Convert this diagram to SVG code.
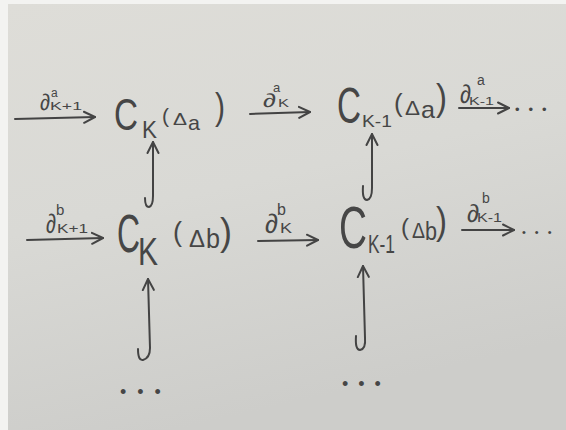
<svg xmlns="http://www.w3.org/2000/svg" width="566" height="430" viewBox="0 0 566 430">
<defs>
<linearGradient id="bg" x1="0" y1="0" x2="0.3" y2="1">
<stop offset="0" stop-color="#deddd8"/>
<stop offset="0.5" stop-color="#d9d9d5"/>
<stop offset="1" stop-color="#cdcdca"/>
</linearGradient>
<marker id="ah" markerUnits="userSpaceOnUse" markerWidth="14" markerHeight="14" viewBox="0 0 14 14" refX="12" refY="7" orient="auto">
<path d="M1,1.5 L12,7 L1,12.5" fill="none" stroke="#444" stroke-width="2" stroke-linecap="round" stroke-linejoin="round"/>
</marker>
</defs>
<style>
.ink{fill:#464646;font-family:"Liberation Sans","DejaVu Sans",sans-serif;}
.c{stroke:#434343;stroke-width:2;fill:none;stroke-linecap:round;stroke-linejoin:round;}
.ar{marker-end:url(#ah);}
</style>
<rect x="0" y="0" width="566" height="430" fill="#f3f3f1"/>
<rect x="8" y="4" width="558" height="426" fill="url(#bg)"/>

<g id="connectors">
<path class="c ar" d="M15,119 L95,117"/>
<path class="c ar" d="M250,114 L310,112"/>
<path class="c ar" d="M459,108 L509,108"/>
<path class="c ar" d="M27,240 L103,238"/>
<path class="c ar" d="M258,241 L318,240"/>
<path class="c ar" d="M462,230 L514,230"/>
<path class="c ar" d="M145,198 Q145,207 149,207 Q153,206 153,196 L153,142"/>
<path class="c ar" d="M363,186 Q362,200 367,200 Q372,199 372,188 L372,134"/>
<path class="c ar" d="M138,349 Q138,361 143,360 Q150,358 150,348 L148,279"/>
<path class="c ar" d="M356,336 Q355,350 360,350 Q366,349 365,338 L363,266"/>
</g>

<g id="labels">
<g id="d-a-k1"><text class="ink"><tspan x="40" y="110" font-size="23" textLength="10" lengthAdjust="spacingAndGlyphs">∂</tspan><tspan x="51" y="97" font-size="12">a</tspan><tspan x="50" y="110" font-size="10" textLength="32" lengthAdjust="spacingAndGlyphs">K+1</tspan></text></g>
<g id="d-a-k"><text class="ink"><tspan x="263" y="107" font-size="19" textLength="13" lengthAdjust="spacingAndGlyphs">∂</tspan><tspan x="273" y="92" font-size="13">a</tspan><tspan x="278" y="107" font-size="11" textLength="11" lengthAdjust="spacingAndGlyphs">K</tspan></text></g>
<g id="d-a-k-1"><text class="ink"><tspan x="460" y="103" font-size="26" textLength="11" lengthAdjust="spacingAndGlyphs">∂</tspan><tspan x="477" y="85" font-size="14">a</tspan><tspan x="469" y="105" font-size="11" textLength="25" lengthAdjust="spacingAndGlyphs">K-1</tspan></text></g>
<g id="d-b-k1"><text class="ink"><tspan x="46" y="233" font-size="27" textLength="10" lengthAdjust="spacingAndGlyphs">∂</tspan><tspan x="56" y="215" font-size="15">b</tspan><tspan x="57" y="233" font-size="12" textLength="31" lengthAdjust="spacingAndGlyphs">K+1</tspan></text></g>
<g id="d-b-k"><text class="ink"><tspan x="265" y="233" font-size="27" textLength="13" lengthAdjust="spacingAndGlyphs">∂</tspan><tspan x="277" y="215" font-size="16">b</tspan><tspan x="280" y="233" font-size="14" textLength="12" lengthAdjust="spacingAndGlyphs">K</tspan></text></g>
<g id="d-b-k-1"><text class="ink"><tspan x="467" y="222" font-size="25" textLength="12" lengthAdjust="spacingAndGlyphs">∂</tspan><tspan x="482" y="203" font-size="14">b</tspan><tspan x="477" y="222" font-size="13" textLength="25" lengthAdjust="spacingAndGlyphs">K-1</tspan></text></g>
</g>

<g id="n-ck-a"><text class="ink"><tspan x="114" y="130" font-size="45" textLength="24" lengthAdjust="spacingAndGlyphs">C</tspan><tspan x="142" y="138" font-size="24" textLength="15" lengthAdjust="spacingAndGlyphs">K</tspan><tspan x="162" y="123" font-size="21">(</tspan><tspan x="173" y="125" font-size="17" textLength="14" lengthAdjust="spacingAndGlyphs">Δ</tspan><tspan x="188" y="130" font-size="21" textLength="12" lengthAdjust="spacingAndGlyphs">a</tspan><tspan x="215" y="119" font-size="37" textLength="10" lengthAdjust="spacingAndGlyphs">)</tspan></text></g>

<g id="n-ck1-a"><text class="ink"><tspan x="337" y="123" font-size="50" textLength="24" lengthAdjust="spacingAndGlyphs">C</tspan><tspan x="362" y="127" font-size="17" textLength="30" lengthAdjust="spacingAndGlyphs">K-1</tspan><tspan x="394" y="112" font-size="26">(</tspan><tspan x="405" y="115" font-size="21" textLength="15" lengthAdjust="spacingAndGlyphs">Δ</tspan><tspan x="421" y="118" font-size="24" textLength="14" lengthAdjust="spacingAndGlyphs">a</tspan><tspan x="436" y="110" font-size="37" textLength="11" lengthAdjust="spacingAndGlyphs">)</tspan></text></g>

<g id="n-ck-b"><text class="ink"><tspan x="117" y="252" font-size="54" textLength="23" lengthAdjust="spacingAndGlyphs">C</tspan><tspan x="138" y="265" font-size="38" textLength="20" lengthAdjust="spacingAndGlyphs">K</tspan><tspan x="173" y="241" font-size="27">(</tspan><tspan x="189" y="247" font-size="24" textLength="16" lengthAdjust="spacingAndGlyphs">Δ</tspan><tspan x="206" y="248" font-size="27" textLength="14" lengthAdjust="spacingAndGlyphs">b</tspan><tspan x="220" y="245" font-size="38" textLength="12" lengthAdjust="spacingAndGlyphs">)</tspan></text></g>

<g id="n-ck1-b"><text class="ink"><tspan x="339" y="248" font-size="60" textLength="28" lengthAdjust="spacingAndGlyphs">C</tspan><tspan x="368" y="253" font-size="25" textLength="27" lengthAdjust="spacingAndGlyphs">K-1</tspan><tspan x="401" y="235" font-size="24">(</tspan><tspan x="412" y="238" font-size="22" textLength="13" lengthAdjust="spacingAndGlyphs">Δ</tspan><tspan x="425" y="240" font-size="25" textLength="12" lengthAdjust="spacingAndGlyphs">b</tspan><tspan x="436" y="234" font-size="39" textLength="11" lengthAdjust="spacingAndGlyphs">)</tspan></text></g>

<g id="dots-top"><text class="ink" x="515" y="114" font-size="13" letter-spacing="9">•••</text></g>
<g id="dots-mid"><text class="ink" x="522" y="236" font-size="11" letter-spacing="9">•••</text></g>
<g id="dots-left"><text class="ink" x="120" y="398" font-size="18" letter-spacing="11">•••</text></g>
<g id="dots-right"><text class="ink" x="342" y="390" font-size="18" letter-spacing="10">•••</text></g>
</svg>
